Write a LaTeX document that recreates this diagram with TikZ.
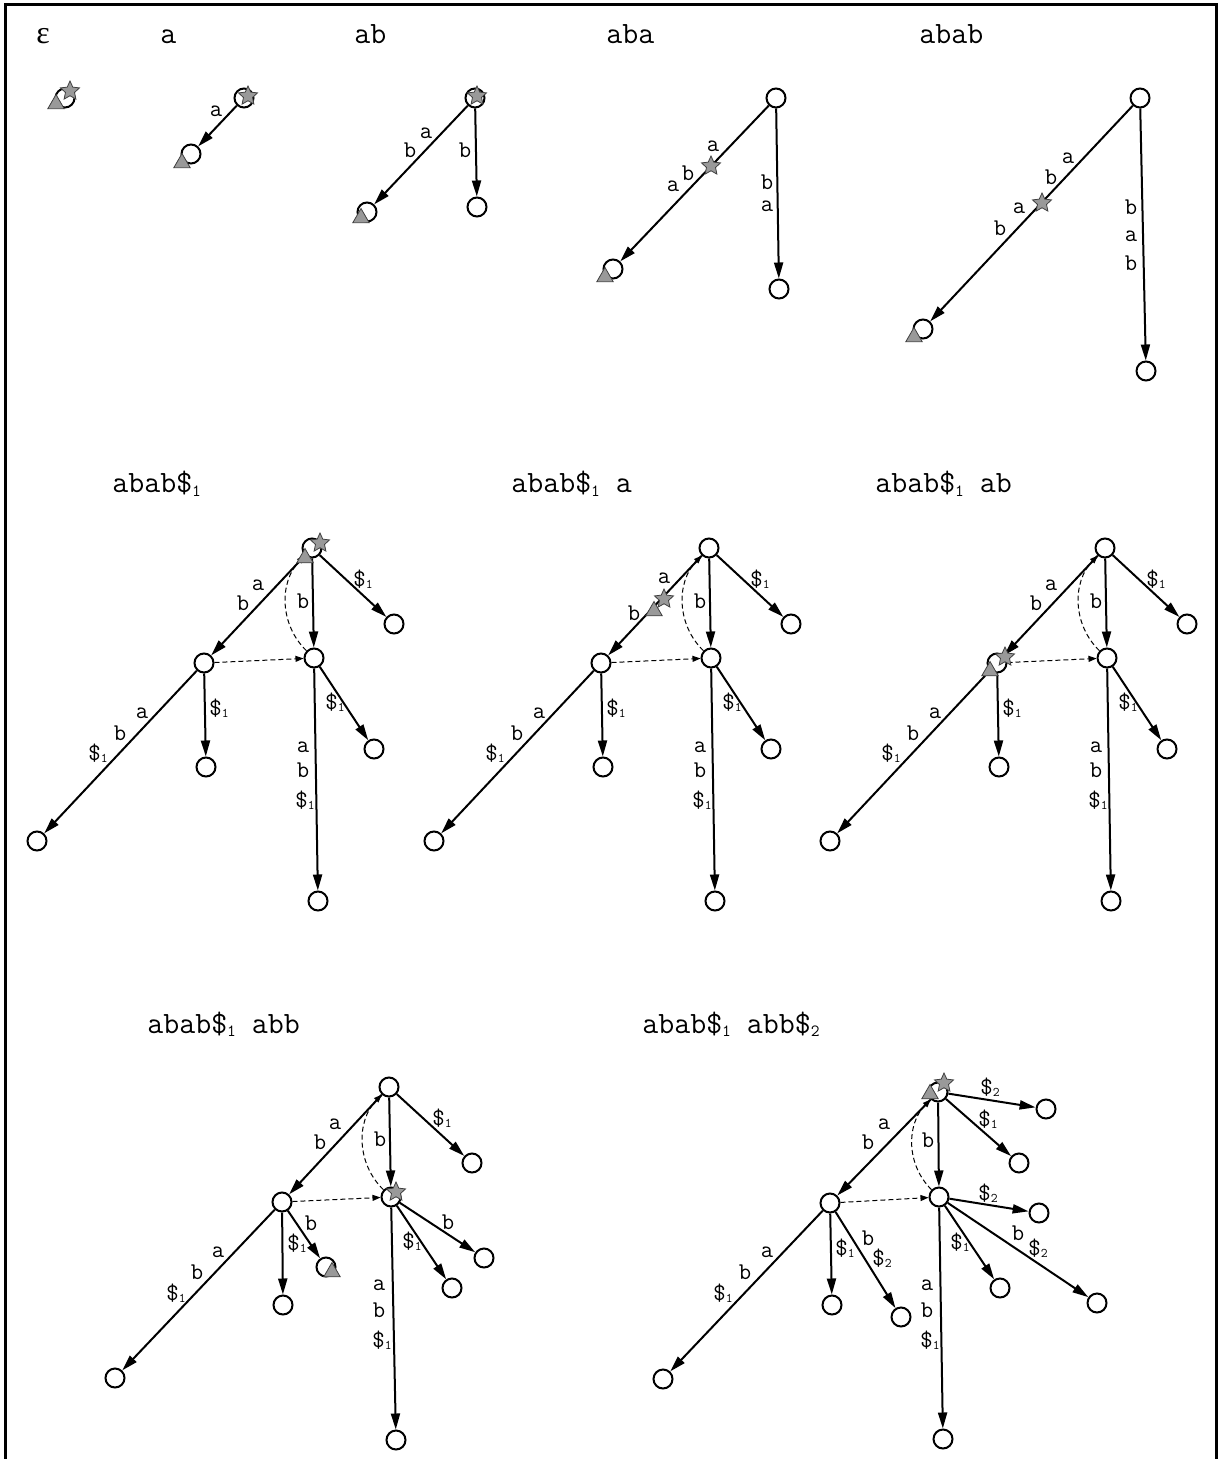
\documentclass[tikz,border=0pt]{standalone}
\usepackage{fontspec}
\newfontfamily\epsfont{Liberation Serif}
\usepackage{graphicx}
\usetikzlibrary{shapes.geometric,arrows.meta}
\newcommand\sdig[1]{\raisebox{-0.25ex}{\scalebox{0.55}{#1}}}
\newcommand\dol[1]{\$\sdig{#1}}
% common tree of the abab$1 panels; #1 = name prefix
\newcommand\basetree[1]{%
  \node[st] (#1r) at (312,548) {};
  \node[st] (#1u) at (204,663) {};
  \node[st] (#1v) at (314,658) {};
  \node[st] (#1l1) at (394,624) {};
  \node[st] (#1l2) at (37,841) {};
  \node[st] (#1l3) at (206,767) {};
  \node[st] (#1l4) at (318,901) {};
  \node[st] (#1l5) at (374,749) {};
  \draw[ed] (#1r) -- (#1u);
  \draw[ed] (#1r) -- (#1v);
  \draw[ed] (#1r) -- (#1l1);
  \draw[ed] (#1u) -- (#1l2);
  \draw[ed] (#1u) -- (#1l3);
  \draw[ed] (#1v) -- (#1l4);
  \draw[ed] (#1v) -- (#1l5);
  \draw[sl] (#1u) -- (#1v);
  \draw[sl] (#1v) to[bend left=45] (#1r);
  \node[lb] (#1x1) at (303,601) {b};
  \node[lb] (#1x2) at (363,579) {\dol1};
  \node[lb] (#1x3) at (142,713) {a};
  \node[lb] (#1x4) at (120,733) {b};
  \node[lb] (#1x5) at (98,753) {\dol1};
  \node[lb] (#1x6) at (219,708) {\dol1};
  \node[lb] (#1x7) at (303,747) {a};
  \node[lb] (#1x8) at (303,770) {b};
  \node[lb] (#1x9) at (305,800) {\dol1};
  \node[lb] (#1x10) at (335,702) {\dol1};
}
\begin{document}
\begin{tikzpicture}[x=0.5pt,y=-0.5pt,
  st/.style={circle,draw,fill=white,line width=1pt,minimum size=9.5pt,inner sep=0pt},
  ed/.style={line width=1pt,-{Triangle[length=8pt,width=4.5pt]}},
  sl/.style={line width=0.5pt,dash pattern=on 2.5pt off 1.5pt,-{Triangle[length=4pt,width=3pt]}},
  lb/.style={inner sep=0pt,font=\ttfamily\fontsize{12}{12}\selectfont},
  ttl/.style={inner sep=0pt,anchor=base west,font=\ttfamily\fontsize{15.5}{15.5}\selectfont},
  mstar/.style={star,star points=5,star point ratio=2.1,minimum size=10pt,inner sep=0pt,fill=black!40,draw=black!75,line width=0.4pt},
  mtri/.style={regular polygon,regular polygon sides=3,minimum size=9.5pt,inner sep=0pt,fill=black!40,draw=black!75,line width=0.4pt},
]
\useasboundingbox (0,0) rectangle (1220,1459);
\fill[white] (0,0) rectangle (1220,1459);
\draw[line width=1.5pt] (5,1459) -- (5,5) -- (1216,5) -- (1216,1459);

% ---- epsilon
\node[ttl,font=\epsfont\fontsize{16}{16}\selectfont] (t0) at (36,44) {ε};
\node[st] (e0) at (65,98) {};
\node[mstar] (e0s) at (70,91) {};
\node[mtri] (e0t) at (56,104) {};

% ---- a
\node[ttl] (t1) at (160,44) {a};
\node[st] (a0) at (244,98) {};
\node[st] (a1) at (191,154) {};
\draw[ed] (a0) -- (a1);
\node[lb] (a0l) at (216,111) {a};
\node[mstar] (a0s) at (248,96) {};
\node[mtri] (a1t) at (182,163) {};

% ---- ab
\node[ttl] (t2) at (354,44) {ab};
\node[st] (b0) at (475,98) {};
\node[st] (b1) at (367,212) {};
\node[st] (b2) at (477,207) {};
\draw[ed] (b0) -- (b1);
\draw[ed] (b0) -- (b2);
\node[lb] (b0l1) at (426,133) {a};
\node[lb] (b0l2) at (410,150) {b};
\node[lb] (b0l3) at (465,150) {b};
\node[mstar] (b0s) at (477,96) {};
\node[mtri] (b1t) at (361,218) {};

% ---- aba
\node[ttl] (t3) at (606,44) {aba};
\node[st] (c0) at (776,98) {};
\node[st] (c1) at (613,269) {};
\node[st] (c2) at (779,289) {};
\draw[ed] (c0) -- (c1);
\draw[ed] (c0) -- (c2);
\node[lb] (c0l1) at (713,146) {a};
\node[lb] (c0l2) at (688,173) {b};
\node[lb] (c0l3) at (673,186) {a};
\node[lb] (c0l4) at (767,182) {b};
\node[lb] (c0l5) at (767,206) {a};
\node[mstar] (c0s) at (711,166) {};
\node[mtri] (c1t) at (605,277) {};

% ---- abab
\node[ttl] (t4) at (919,44) {abab};
\node[st] (d0) at (1140,98) {};
\node[st] (d1) at (923,329) {};
\node[st] (d2) at (1146,371) {};
\draw[ed] (d0) -- (d1);
\draw[ed] (d0) -- (d2);
\node[lb] (d0l1) at (1068,158) {a};
\node[lb] (d0l2) at (1051,177) {b};
\node[lb] (d0l3) at (1019,208) {a};
\node[lb] (d0l4) at (1000,228) {b};
\node[lb] (d0l5) at (1131,207) {b};
\node[lb] (d0l6) at (1131,236) {a};
\node[lb] (d0l7) at (1131,263) {b};
\node[mstar] (d0s) at (1042,203) {};
\node[mtri] (d1t) at (914,337) {};

% ---- abab$1
\node[ttl] (t5) at (112,493) {abab\dol1};
\basetree{p}
\node[lb] (pa) at (258,585) {a};
\node[lb] (pb) at (243,603) {b};
\node[mstar] (ps) at (320,543) {};
\node[mtri] (pt) at (305,558) {};

% ---- abab$1 a
\node[ttl] (t6) at (511,493) {abab\dol1 a};
\begin{scope}[shift={(397,0)}]
\basetree{q}
\node[lb] (qa) at (267,578) {a};
\node[lb] (qb) at (237,613) {b};
\node[mstar] (qs) at (267,599) {};
\node[mtri] (qt) at (257,611) {};
\end{scope}

% ---- abab$1 ab
\node[ttl] (t7) at (875,493) {abab\dol1 ab};
\begin{scope}[shift={(793,0)}]
\basetree{s}
\node[lb] (sa) at (258,585) {a};
\node[lb] (sb) at (243,603) {b};
\node[mstar] (ss) at (212,657) {};
\node[mtri] (st) at (197,671) {};
\end{scope}

% ---- abab$1 abb
\node[ttl] (t8) at (147,1033) {abab\dol1 abb};
\node[st] (wr) at (389,1087) {};
\node[st] (wu) at (282,1202) {};
\node[st] (wv) at (391,1197) {};
\node[st] (wl1) at (472,1163) {};
\node[st] (wl2) at (115,1378) {};
\node[st] (wl3) at (283,1305) {};
\node[st] (wl4) at (326,1267) {};
\node[st] (wl5) at (396,1440) {};
\node[st] (wl6) at (452,1288) {};
\node[st] (wl7) at (484,1258) {};
\draw[ed] (wr) -- (wu);
\draw[ed] (wr) -- (wv);
\draw[ed] (wr) -- (wl1);
\draw[ed] (wu) -- (wl2);
\draw[ed] (wu) -- (wl3);
\draw[ed] (wu) -- (wl4);
\draw[ed] (wv) -- (wl5);
\draw[ed] (wv) -- (wl6);
\draw[ed] (wv) -- (wl7);
\draw[sl] (wu) -- (wv);
\draw[sl] (wv) to[bend left=45] (wr);
\node[lb] (wx1) at (335,1124) {a};
\node[lb] (wx2) at (320,1142) {b};
\node[lb] (wx3) at (380,1139) {b};
\node[lb] (wx4) at (442,1118) {\dol1};
\node[lb] (wx5) at (218,1252) {a};
\node[lb] (wx6) at (197,1272) {b};
\node[lb] (wx7) at (176,1293) {\dol1};
\node[lb] (wx8) at (297,1243) {\dol1};
\node[lb] (wx9) at (311,1223) {b};
\node[lb] (wx10) at (379,1285) {a};
\node[lb] (wx11) at (379,1310) {b};
\node[lb] (wx12) at (382,1340) {\dol1};
\node[lb] (wx13) at (412,1241) {\dol1};
\node[lb] (wx14) at (448,1222) {b};
\node[mstar] (ws) at (396,1192) {};
\node[mtri] (wt) at (332,1272) {};

% ---- abab$1 abb$2
\node[ttl] (t9) at (642,1033) {abab\dol1 abb\dol2};
\node[st] (zr) at (938,1092) {};
\node[st] (zu) at (830,1203) {};
\node[st] (zv) at (939,1197) {};
\node[st] (zl1) at (1046,1109) {};
\node[st] (zl2) at (1019,1163) {};
\node[st] (zl3) at (663,1379) {};
\node[st] (zl4) at (832,1305) {};
\node[st] (zl5) at (901,1317) {};
\node[st] (zl6) at (943,1439) {};
\node[st] (zl7) at (1000,1288) {};
\node[st] (zl8) at (1039,1213) {};
\node[st] (zl9) at (1097,1303) {};
\draw[ed] (zr) -- (zu);
\draw[ed] (zr) -- (zv);
\draw[ed] (zr) -- (zl1);
\draw[ed] (zr) -- (zl2);
\draw[ed] (zu) -- (zl3);
\draw[ed] (zu) -- (zl4);
\draw[ed] (zu) -- (zl5);
\draw[ed] (zv) -- (zl6);
\draw[ed] (zv) -- (zl7);
\draw[ed] (zv) -- (zl8);
\draw[ed] (zv) -- (zl9);
\draw[sl] (zu) -- (zv);
\draw[sl] (zv) to[bend left=45] (zr);
\node[lb] (zx1) at (990,1087) {\dol2};
\node[lb] (zx2) at (988,1119) {\dol1};
\node[lb] (zx3) at (884,1124) {a};
\node[lb] (zx4) at (868,1142) {b};
\node[lb] (zx5) at (928,1140) {b};
\node[lb] (zx6) at (767,1252) {a};
\node[lb] (zx7) at (745,1272) {b};
\node[lb] (zx8) at (723,1293) {\dol1};
\node[lb] (zx9) at (845,1248) {\dol1};
\node[lb] (zx10) at (868,1238) {b};
\node[lb] (zx11) at (882,1258) {\dol2};
\node[lb] (zx12) at (988,1193) {\dol2};
\node[lb] (zx13) at (960,1242) {\dol1};
\node[lb] (zx14) at (1018,1233) {b};
\node[lb] (zx15) at (1038,1248) {\dol2};
\node[lb] (zx16) at (927,1285) {a};
\node[lb] (zx17) at (927,1310) {b};
\node[lb] (zx18) at (930,1340) {\dol1};
\node[mstar] (zs) at (944,1083) {};
\node[mtri] (zt) at (930,1094) {};
\end{tikzpicture}
\end{document}
